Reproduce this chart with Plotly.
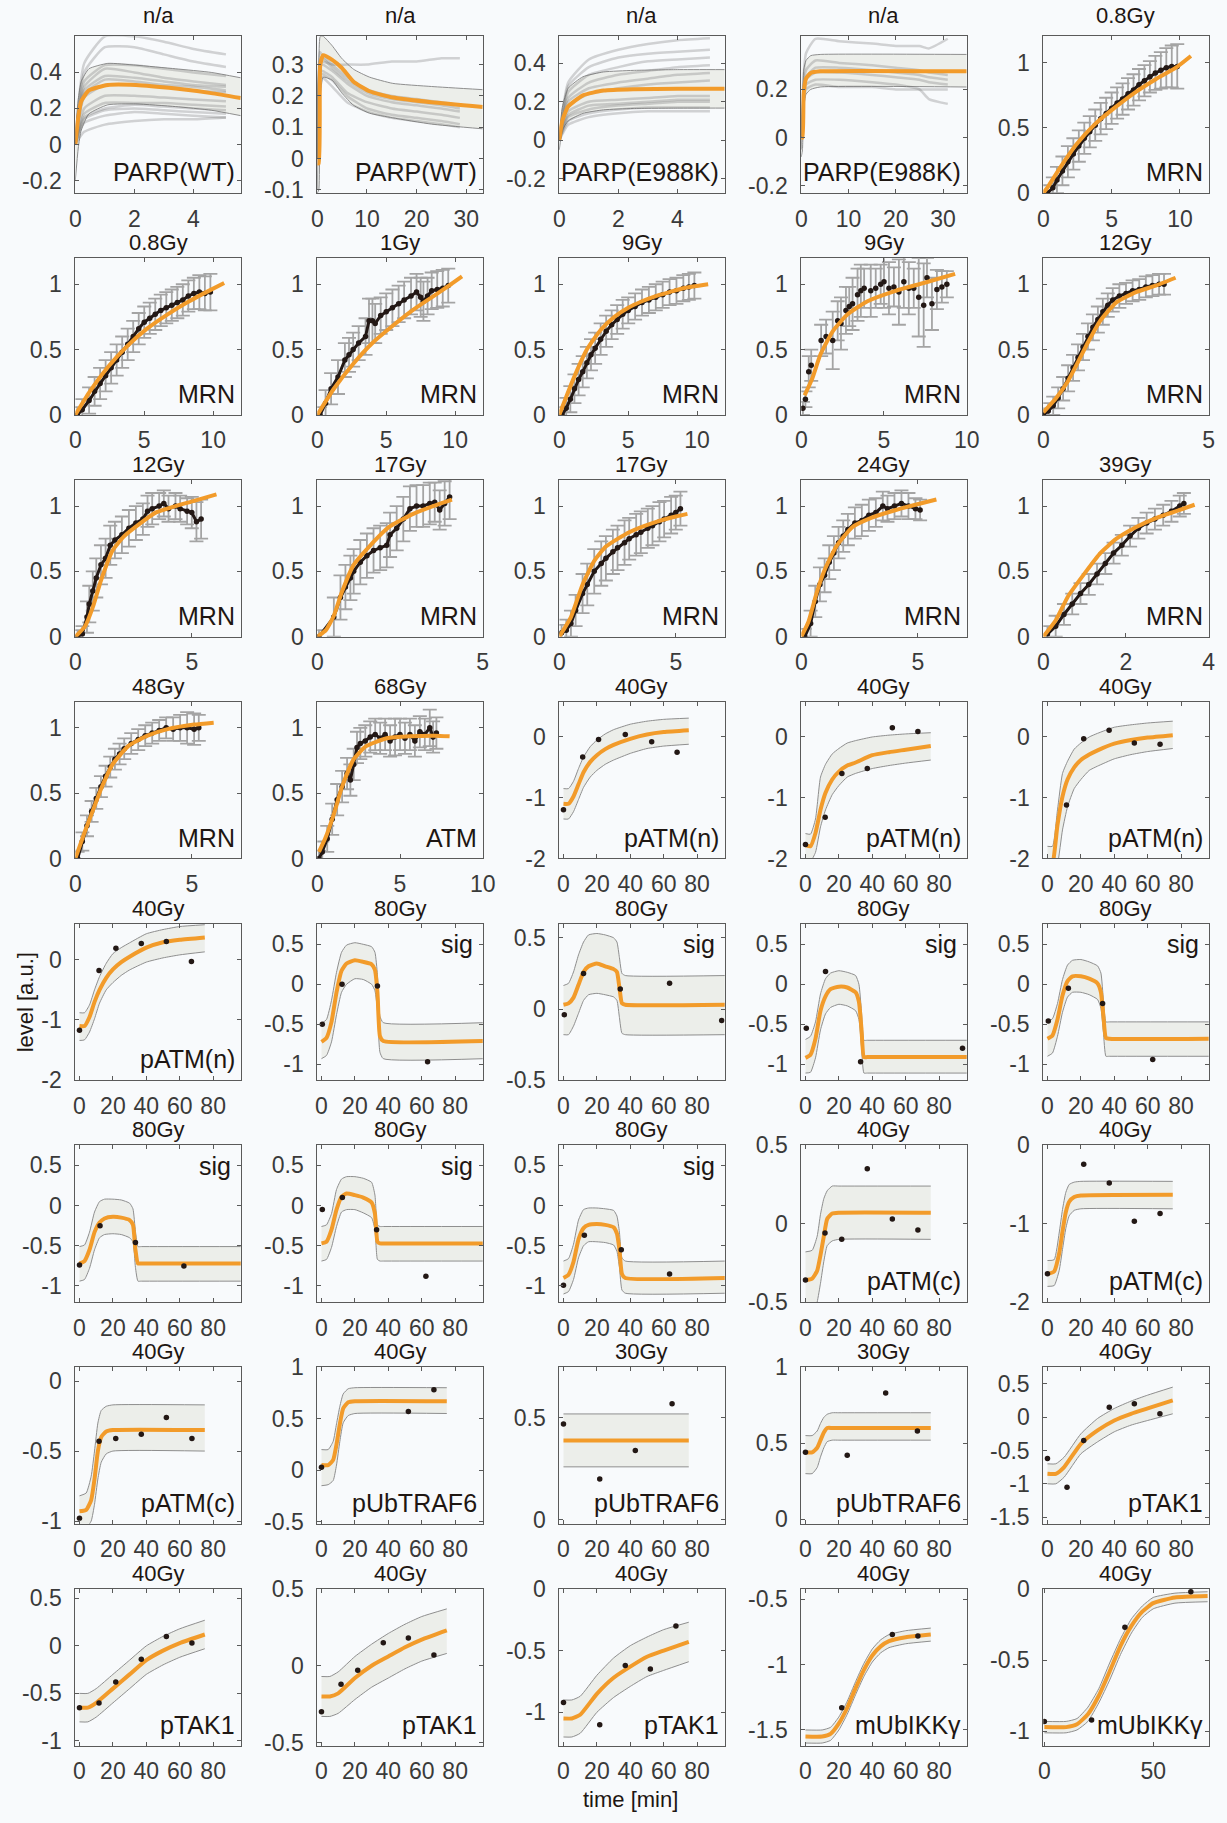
import plotly.graph_objects as go

# ============ panel meta (row-major, 8 rows x 5 cols) ============
TITLES = ["n/a", "n/a", "n/a", "n/a", "0.8Gy",
          "0.8Gy", "1Gy", "9Gy", "9Gy", "12Gy",
          "12Gy", "17Gy", "17Gy", "24Gy", "39Gy",
          "48Gy", "68Gy", "40Gy", "40Gy", "40Gy",
          "40Gy", "80Gy", "80Gy", "80Gy", "80Gy",
          "80Gy", "80Gy", "80Gy", "40Gy", "40Gy",
          "40Gy", "40Gy", "30Gy", "30Gy", "40Gy",
          "40Gy", "40Gy", "40Gy", "40Gy", "40Gy"]
LABELS = ["PARP(WT)", "PARP(WT)", "PARP(E988K)", "PARP(E988K)", "MRN",
          "MRN", "MRN", "MRN", "MRN", "MRN",
          "MRN", "MRN", "MRN", "MRN", "MRN",
          "MRN", "ATM", "pATM(n)", "pATM(n)", "pATM(n)",
          "pATM(n)", "sig", "sig", "sig", "sig",
          "sig", "sig", "sig", "pATM(c)", "pATM(c)",
          "pATM(c)", "pUbTRAF6", "pUbTRAF6", "pUbTRAF6", "pTAK1",
          "pTAK1", "pTAK1", "pTAK1", "mUbIKKγ", "mUbIKKγ"]

T80 = [-2.5, 96.5]
X_RANGES = [[0, 5.6], [0, 33.3], [0, 5.6], [0, 35], [0, 12.1],
            [0, 12], [0, 12], [0, 12], [0, 10], [0, 5],
            [0, 7.1], [0, 5], [0, 7.1], [0, 7.1], [0, 4],
            [0, 7.1], [0, 10], T80, T80, T80,
            T80, T80, T80, T80, T80,
            T80, T80, T80, T80, T80,
            T80, T80, T80, T80, T80,
            T80, T80, T80, T80, [-0.5, 75.5]]
K80 = [0, 20, 40, 60, 80]
X_TICKS = [[0, 2, 4], [0, 10, 20, 30], [0, 2, 4], [0, 10, 20, 30], [0, 5, 10],
           [0, 5, 10], [0, 5, 10], [0, 5, 10], [0, 5, 10], [0, 5],
           [0, 5], [0, 5], [0, 5], [0, 5], [0, 2, 4],
           [0, 5], [0, 5, 10], K80, K80, K80,
           K80, K80, K80, K80, K80,
           K80, K80, K80, K80, K80,
           K80, K80, K80, K80, K80,
           K80, K80, K80, K80, [0, 50]]
MRN_R = [0, 1.2]
Y_RANGES = [[-0.27, 0.6], [-0.11, 0.39], [-0.275, 0.54], [-0.23, 0.42], MRN_R,
            MRN_R, MRN_R, MRN_R, MRN_R, MRN_R,
            MRN_R, MRN_R, MRN_R, MRN_R, MRN_R,
            MRN_R, MRN_R, [-2, 0.58], [-2, 0.58], [-2, 0.58],
            [-2, 0.6], [-1.2, 0.76], [-0.5, 0.6], [-1.2, 0.76], [-1.2, 0.76],
            [-1.2, 0.75], [-1.2, 0.75], [-1.2, 0.75], [-0.5, 0.5], [-2, 0],
            [-1.02, 0.1], [-0.52, 1.0], [-0.02, 0.75], [-0.03, 1.0], [-1.6, 0.75],
            [-1.05, 0.6], [-0.52, 0.5], [-1.27, 0], [-1.62, -0.42], [-1.1, 0]]
MRN_T = [0, 0.5, 1]
S4 = [-1, -0.5, 0, 0.5]
Y_TICKS = [[-0.2, 0, 0.2, 0.4], [-0.1, 0, 0.1, 0.2, 0.3], [-0.2, 0, 0.2, 0.4], [-0.2, 0, 0.2], MRN_T,
           MRN_T, MRN_T, MRN_T, MRN_T, MRN_T,
           MRN_T, MRN_T, MRN_T, MRN_T, MRN_T,
           MRN_T, MRN_T, [-2, -1, 0], [-2, -1, 0], [-2, -1, 0],
           [-2, -1, 0], S4, [-0.5, 0, 0.5], S4, S4,
           S4, S4, S4, [-0.5, 0, 0.5], [-2, -1, 0],
           [-1, -0.5, 0], [-0.5, 0, 0.5, 1], [0, 0.5], [0, 0.5, 1], [-1.5, -1, -0.5, 0, 0.5],
           S4, [-0.5, 0, 0.5], [-1, -0.5, 0], [-1.5, -1, -0.5], [-1, -0.5, 0]]

# ============ PARP panels (gray single-cell traces + fit + band) ============
P01_FIT_X = [0, 0.1, 0.2, 0.46, 1.1, 2.05, 3.4, 4.6, 5.6]
P01_FIT_Y = [0, 0.15, 0.24, 0.3, 0.33, 0.33, 0.31, 0.285, 0.258]
P01_UP = [0.05, 0.25, 0.35, 0.42, 0.45, 0.44, 0.42, 0.4, 0.37]
P01_LO = [-0.2, -0.02, 0.08, 0.17, 0.22, 0.225, 0.21, 0.19, 0.16]
P01_TX = [0, 0.3, 1, 2, 3, 4, 5.1]
P01_TRAJ = [[0, 0.45, 0.6, 0.6, 0.57, 0.53, 0.5],
            [0, 0.4, 0.54, 0.54, 0.5, 0.46, 0.43],
            [0, 0.35, 0.44, 0.44, 0.42, 0.4, 0.38],
            [0, 0.32, 0.42, 0.4, 0.37, 0.35, 0.33],
            [0, 0.3, 0.38, 0.37, 0.35, 0.33, 0.32],
            [0, 0.28, 0.36, 0.35, 0.33, 0.32, 0.3],
            [0, 0.26, 0.33, 0.33, 0.32, 0.3, 0.29],
            [0, 0.2, 0.27, 0.27, 0.26, 0.25, 0.24],
            [0, 0.17, 0.23, 0.23, 0.23, 0.22, 0.21],
            [0, 0.15, 0.2, 0.22, 0.21, 0.2, 0.19],
            [0, 0.14, 0.19, 0.2, 0.19, 0.18, 0.17],
            [0, 0.12, 0.16, 0.18, 0.17, 0.16, 0.15],
            [0, 0.07, 0.11, 0.13, 0.14, 0.14, 0.15]]

P02_FIT_X = [0, 0.3, 0.6, 1.2, 3, 4.9, 7.3, 10.5, 15.2, 23, 33.3]
P02_FIT_Y = [-0.015, -0.015, 0.3, 0.33, 0.315, 0.29, 0.245, 0.215, 0.195, 0.18, 0.165]
P02_UP = [-0.1, 0.2, 0.39, 0.39, 0.36, 0.32, 0.285, 0.26, 0.24, 0.23, 0.22]
P02_LO = [-0.11, -0.1, 0.2, 0.26, 0.25, 0.21, 0.17, 0.145, 0.13, 0.11, 0.095]
P02_TX = [0, 0.5, 1, 3, 6, 10, 15, 20, 25, 28.7]
P02_TRAJ = [[0, 0.3, 0.31, 0.3, 0.3, 0.3, 0.31, 0.31, 0.32, 0.32],
            [0, 0.3, 0.3, 0.28, 0.24, 0.2, 0.18, 0.17, 0.16, 0.15],
            [0, 0.28, 0.28, 0.26, 0.21, 0.18, 0.16, 0.15, 0.14, 0.13],
            [0, 0.27, 0.27, 0.25, 0.2, 0.16, 0.14, 0.13, 0.12, 0.11],
            [0, 0.26, 0.26, 0.23, 0.18, 0.15, 0.13, 0.12, 0.11, 0.1],
            [0, 0.31, 0.32, 0.29, 0.25, 0.21, 0.19, 0.18, 0.17, 0.16],
            [0, 0.34, 0.33, 0.3, 0.26, 0.22, 0.2, 0.19, 0.18, 0.17]]

P03_FIT_X = [0, 0.1, 0.3, 0.8, 1.5, 2.5, 4, 5.6]
P03_FIT_Y = [0, 0.1, 0.175, 0.233, 0.258, 0.265, 0.267, 0.267]
P03_UP = [0, 0.17, 0.27, 0.33, 0.355, 0.363, 0.367, 0.367]
P03_LO = [-0.05, 0.05, 0.1, 0.14, 0.158, 0.165, 0.167, 0.167]
P03_TX = [0, 0.3, 1, 2, 3, 4, 5.1]
P03_TRAJ = [[0, 0.3, 0.42, 0.47, 0.5, 0.52, 0.53],
            [0, 0.28, 0.38, 0.43, 0.45, 0.46, 0.47],
            [0, 0.25, 0.34, 0.38, 0.41, 0.42, 0.43],
            [0, 0.22, 0.3, 0.34, 0.36, 0.38, 0.39],
            [0, 0.2, 0.27, 0.3, 0.32, 0.34, 0.35],
            [0, 0.18, 0.24, 0.27, 0.29, 0.3, 0.31],
            [0, 0.15, 0.2, 0.21, 0.22, 0.23, 0.23],
            [0, 0.13, 0.18, 0.19, 0.2, 0.21, 0.21],
            [0, 0.12, 0.16, 0.18, 0.19, 0.2, 0.2],
            [0, 0.1, 0.14, 0.16, 0.17, 0.17, 0.17],
            [0, 0.08, 0.12, 0.14, 0.15, 0.15, 0.15]]

P04_FIT_X = [0, 0.25, 0.5, 1.0, 2.0, 4.0, 35]
P04_FIT_Y = [0, 0.0, 0.18, 0.245, 0.268, 0.275, 0.275]
P04_UP = [-0.05, 0.1, 0.28, 0.32, 0.34, 0.345, 0.345]
P04_LO = [-0.08, -0.05, 0.12, 0.18, 0.2, 0.21, 0.21]
P04_TX = [0, 1, 3, 8, 15, 20, 25, 27, 31]
P04_TRAJ = [[0, 0.35, 0.41, 0.4, 0.39, 0.38, 0.38, 0.37, 0.41],
            [0, 0.28, 0.32, 0.31, 0.3, 0.29, 0.28, 0.27, 0.26],
            [0, 0.24, 0.27, 0.27, 0.26, 0.25, 0.24, 0.23, 0.22],
            [0, 0.2, 0.22, 0.21, 0.21, 0.2, 0.2, 0.2, 0.2],
            [0, 0.22, 0.24, 0.24, 0.23, 0.22, 0.2, 0.16, 0.14],
            [0, 0.25, 0.29, 0.29, 0.28, 0.27, 0.26, 0.25, 0.24]]

# ============ MRN / ATM panels (mean +/- sd and fit) ============
P05_FIT_X = [0, 0.35, 1.2, 2.4, 3.8, 5.3, 6.7, 8.2, 9.7, 10.8]
P05_FIT_Y = [0, 0.05, 0.19, 0.37, 0.53, 0.66, 0.77, 0.87, 0.96, 1.05]
P05_X = [0.3, 0.7, 1.0, 1.4, 1.8, 2.2, 2.6, 3.0, 3.4, 3.8, 4.2, 4.6, 5.0, 5.4, 5.8, 6.2, 6.6, 7.0, 7.4, 7.8, 8.2, 8.6, 9.0, 9.4, 9.8]
P05_Y = [0.0, 0.04, 0.1, 0.17, 0.24, 0.3, 0.36, 0.42, 0.47, 0.52, 0.57, 0.61, 0.65, 0.69, 0.72, 0.76, 0.79, 0.83, 0.86, 0.89, 0.92, 0.94, 0.96, 0.97, 0.97]
P05_ERR = [0.06, 0.08, 0.1, 0.11, 0.12, 0.12, 0.12, 0.12, 0.12, 0.12, 0.12, 0.12, 0.12, 0.12, 0.12, 0.12, 0.12, 0.12, 0.12, 0.12, 0.13, 0.14, 0.15, 0.16, 0.17]

P06_FIT_X = [0, 1.0, 2.4, 3.8, 5.2, 6.7, 8.1, 9.5, 10.8]
P06_FIT_Y = [0, 0.17, 0.37, 0.53, 0.66, 0.77, 0.86, 0.94, 1.01]
P06_X = [0.15, 0.5, 1.0, 1.4, 1.8, 2.2, 2.6, 3.0, 3.4, 3.8, 4.2, 4.6, 5.0, 5.4, 5.8, 6.2, 6.6, 7.0, 7.4, 7.8, 8.2, 8.6, 9.0, 9.4, 9.8]
P06_Y = [0, 0.04, 0.11, 0.18, 0.24, 0.3, 0.36, 0.42, 0.48, 0.54, 0.6, 0.66, 0.71, 0.74, 0.77, 0.8, 0.82, 0.84, 0.86, 0.88, 0.91, 0.93, 0.94, 0.93, 0.94]
P06_ERR = [0.06, 0.08, 0.1, 0.11, 0.12, 0.12, 0.12, 0.12, 0.12, 0.12, 0.12, 0.12, 0.12, 0.12, 0.12, 0.12, 0.12, 0.12, 0.12, 0.12, 0.12, 0.12, 0.13, 0.13, 0.14]

P07_FIT_X = [0, 1.2, 2.6, 4.0, 5.45, 6.9, 8.3, 9.7, 10.5]
P07_FIT_Y = [0, 0.2, 0.39, 0.55, 0.68, 0.8, 0.9, 1.0, 1.06]
P07_X = [0.2, 0.6, 1.0, 1.5, 2.0, 2.3, 2.6, 3.0, 3.5, 3.75, 4.0, 4.2, 4.6, 5.0, 5.45, 5.9, 6.3, 6.8, 7.2, 7.5, 7.7, 8.0, 8.3, 8.7, 9.1, 9.5]
P07_Y = [0, 0.09, 0.2, 0.29, 0.42, 0.46, 0.5, 0.55, 0.6, 0.72, 0.72, 0.7, 0.76, 0.79, 0.82, 0.85, 0.88, 0.91, 0.94, 0.9, 0.87, 0.91, 0.95, 0.96, 0.97, 0.99]
P07_ERR = [0.06, 0.1, 0.12, 0.13, 0.13, 0.13, 0.13, 0.13, 0.14, 0.17, 0.17, 0.15, 0.14, 0.14, 0.14, 0.14, 0.14, 0.14, 0.14, 0.15, 0.15, 0.14, 0.14, 0.14, 0.14, 0.13]

P08_FIT_X = [0, 1, 2, 3, 4, 5, 6, 7, 8, 9, 10.8]
P08_FIT_Y = [0, 0.27, 0.5, 0.65, 0.75, 0.82, 0.87, 0.91, 0.94, 0.97, 1.0]
P08_X = [0.2, 0.5, 0.8, 1.1, 1.4, 1.7, 2.0, 2.3, 2.6, 3.0, 3.4, 3.8, 4.2, 4.6, 5.0, 5.5, 6.0, 6.5, 7.0, 7.5, 8.0, 8.5, 9.0, 9.4, 9.8]
P08_Y = [0.0, 0.05, 0.12, 0.2, 0.27, 0.33, 0.4, 0.46, 0.51, 0.58, 0.64, 0.69, 0.73, 0.77, 0.8, 0.83, 0.86, 0.88, 0.9, 0.92, 0.94, 0.95, 0.97, 0.98, 0.99]
P08_ERR = [0.06, 0.08, 0.1, 0.11, 0.12, 0.12, 0.12, 0.12, 0.12, 0.12, 0.12, 0.11, 0.11, 0.11, 0.1, 0.1, 0.1, 0.1, 0.1, 0.1, 0.1, 0.1, 0.1, 0.1, 0.1]

P09_FIT_X = [0.2, 0.67, 1.15, 1.9, 2.8, 4.0, 5.7, 7.4, 9.3]
P09_FIT_Y = [0.15, 0.28, 0.46, 0.64, 0.77, 0.87, 0.95, 1.01, 1.08]
P09_X = [0.1, 0.25, 0.45, 0.6, 1.2, 1.5, 1.9, 2.2, 2.4, 2.7, 2.9, 3.1, 3.4, 3.6, 3.8, 4.2, 4.5, 4.8, 5.0, 5.3, 5.6, 5.9, 6.2, 6.5, 6.8, 7.1, 7.4, 7.6, 7.9, 8.2, 8.5, 8.8]
P09_Y = [0.05, 0.12, 0.33, 0.38, 0.57, 0.6, 0.57, 0.72, 0.7, 0.8, 0.83, 0.85, 0.92, 0.95, 0.97, 0.95, 0.97, 1.0, 1.02, 0.97, 0.98, 0.94, 1.02, 0.97, 0.97, 0.9, 0.84, 1.05, 0.85, 0.96, 0.98, 1.0]
P09_ERR = [0.05, 0.06, 0.12, 0.12, 0.12, 0.13, 0.22, 0.15, 0.2, 0.18, 0.15, 0.2, 0.2, 0.2, 0.15, 0.2, 0.15, 0.15, 0.2, 0.2, 0.15, 0.25, 0.2, 0.2, 0.15, 0.3, 0.32, 0.15, 0.2, 0.15, 0.12, 0.1]

P10_FIT_X = [0, 0.39, 0.75, 1.0, 1.36, 1.72, 2.2, 2.8, 3.4, 4.0]
P10_FIT_Y = [0.02, 0.13, 0.26, 0.38, 0.56, 0.72, 0.86, 0.94, 0.99, 1.05]
P10_X = [0, 0.15, 0.3, 0.45, 0.6, 0.75, 0.9, 1.05, 1.2, 1.35, 1.5, 1.65, 1.8, 1.95, 2.1, 2.3, 2.5, 2.7, 2.9, 3.1, 3.3, 3.5, 3.65]
P10_Y = [0, 0.03, 0.07, 0.13, 0.2, 0.28, 0.36, 0.44, 0.52, 0.6, 0.67, 0.73, 0.79, 0.84, 0.88, 0.91, 0.93, 0.95, 0.96, 0.98, 0.99, 1.0, 1.0]
P10_ERR = [0.05, 0.06, 0.07, 0.08, 0.09, 0.1, 0.1, 0.1, 0.1, 0.1, 0.1, 0.1, 0.1, 0.09, 0.09, 0.09, 0.08, 0.08, 0.08, 0.08, 0.08, 0.08, 0.08]

P11_FIT_X = [0, 0.42, 0.76, 1.1, 1.6, 2.1, 2.8, 3.45, 4.3, 5.1, 6.06]
P11_FIT_Y = [0, 0.08, 0.23, 0.43, 0.66, 0.77, 0.87, 0.95, 1.0, 1.04, 1.09]
P11_X = [0.1, 0.3, 0.5, 0.6, 0.75, 0.9, 1.1, 1.3, 1.5, 1.7, 2.0, 2.3, 2.6, 2.9, 3.1, 3.3, 3.6, 3.8, 4.0, 4.3, 4.5, 4.8, 5.0, 5.2, 5.4]
P11_Y = [0, 0.02, 0.15, 0.25, 0.35, 0.45, 0.55, 0.6, 0.7, 0.74, 0.78, 0.83, 0.87, 0.9, 0.96, 0.98, 1.0, 1.02, 0.98, 1.0, 0.98, 0.96, 0.95, 0.88, 0.9]
P11_ERR = [0.05, 0.06, 0.12, 0.14, 0.15, 0.15, 0.15, 0.15, 0.15, 0.14, 0.14, 0.14, 0.13, 0.12, 0.12, 0.12, 0.1, 0.1, 0.1, 0.1, 0.1, 0.1, 0.12, 0.15, 0.15]

P12_FIT_X = [0, 0.26, 0.5, 0.74, 1.1, 1.57, 2.17, 2.9, 3.5, 4.07]
P12_FIT_Y = [0, 0.05, 0.16, 0.34, 0.55, 0.69, 0.84, 0.94, 1.0, 1.05]
P12_X = [0.05, 0.5, 0.7, 0.85, 1.0, 1.1, 1.3, 1.5, 1.7, 1.9, 2.1, 2.2, 2.4, 2.6, 2.8, 3.0, 3.2, 3.4, 3.55, 3.7, 3.85, 4.0]
P12_Y = [0, 0.15, 0.3, 0.38, 0.45, 0.5, 0.57, 0.62, 0.66, 0.68, 0.7, 0.78, 0.83, 0.9, 0.98, 1.0, 1.0, 1.02, 1.03, 0.97, 1.02, 1.07]
P12_ERR = [0.05, 0.15, 0.17, 0.17, 0.17, 0.17, 0.17, 0.17, 0.17, 0.17, 0.17, 0.17, 0.17, 0.17, 0.17, 0.16, 0.16, 0.16, 0.15, 0.15, 0.17, 0.17]

P13_FIT_X = [0, 0.5, 1, 1.5, 2, 3, 4, 5, 5.5]
P13_FIT_Y = [0, 0.15, 0.4, 0.58, 0.69, 0.8, 0.87, 0.92, 0.94]
P13_X = [0.1, 0.3, 0.5, 0.7, 1.0, 1.2, 1.5, 1.8, 2.0, 2.3, 2.5, 2.8, 3.0, 3.3, 3.5, 3.8, 4.0, 4.3, 4.5, 4.8, 5.0, 5.2]
P13_Y = [0.03, 0.05, 0.1, 0.2, 0.33, 0.4, 0.5, 0.56, 0.6, 0.65, 0.68, 0.72, 0.75, 0.78, 0.8, 0.83, 0.85, 0.88, 0.9, 0.93, 0.95, 0.98]
P13_ERR = [0.06, 0.08, 0.1, 0.12, 0.15, 0.16, 0.17, 0.17, 0.17, 0.17, 0.17, 0.17, 0.16, 0.16, 0.16, 0.15, 0.15, 0.15, 0.14, 0.14, 0.13, 0.13]

P14_FIT_X = [0, 0.3, 0.65, 1.0, 1.5, 2.2, 3.0, 4.06, 4.9, 5.8]
P14_FIT_Y = [0, 0.11, 0.33, 0.51, 0.69, 0.84, 0.91, 0.97, 1.01, 1.05]
P14_X = [0.15, 0.4, 0.6, 0.8, 1.0, 1.2, 1.4, 1.6, 1.8, 2.0, 2.3, 2.6, 2.9, 3.2, 3.5, 3.7, 4.0, 4.3, 4.6, 4.9, 5.1]
P14_Y = [0, 0.1, 0.27, 0.4, 0.47, 0.57, 0.64, 0.72, 0.77, 0.82, 0.87, 0.89, 0.93, 0.95, 1.0, 0.98, 1.0, 1.02, 1.0, 0.98, 0.97]
P14_ERR = [0.06, 0.1, 0.12, 0.13, 0.13, 0.13, 0.13, 0.12, 0.12, 0.12, 0.12, 0.12, 0.12, 0.11, 0.11, 0.1, 0.1, 0.1, 0.1, 0.08, 0.08]

P15_FIT_X = [0, 0.31, 0.6, 1.0, 1.38, 1.77, 2.25, 2.74, 3.2, 3.66]
P15_FIT_Y = [0, 0.13, 0.31, 0.485, 0.64, 0.75, 0.84, 0.91, 0.96, 1.01]
P15_X = [0.1, 0.3, 0.5, 0.7, 0.9, 1.1, 1.3, 1.5, 1.7, 1.9, 2.1, 2.3, 2.5, 2.7, 2.9, 3.1, 3.3, 3.4]
P15_Y = [0.02, 0.08, 0.17, 0.25, 0.33, 0.4, 0.48, 0.56, 0.64, 0.7, 0.77, 0.83, 0.87, 0.9, 0.93, 0.96, 1.0, 1.02]
P15_ERR = [0.06, 0.08, 0.08, 0.08, 0.08, 0.08, 0.08, 0.08, 0.08, 0.08, 0.08, 0.08, 0.08, 0.08, 0.08, 0.08, 0.08, 0.08]

P16_FIT_X = [0, 0.42, 0.76, 1.1, 1.6, 2.27, 3.1, 3.96, 5.1, 5.94]
P16_FIT_Y = [0, 0.21, 0.37, 0.53, 0.72, 0.86, 0.94, 0.99, 1.025, 1.04]
P16_X = [0.1, 0.3, 0.5, 0.7, 0.9, 1.1, 1.3, 1.5, 1.7, 1.9, 2.1, 2.4, 2.7, 3.0, 3.3, 3.6, 3.9, 4.2, 4.5, 4.8, 5.1, 5.3]
P16_Y = [0, 0.13, 0.25, 0.36, 0.46, 0.55, 0.63, 0.7, 0.76, 0.8, 0.84, 0.88, 0.91, 0.94, 0.96, 0.98, 1.0, 0.99, 1.0, 1.0, 0.99, 1.0]
P16_ERR = [0.05, 0.07, 0.08, 0.08, 0.08, 0.08, 0.08, 0.08, 0.08, 0.08, 0.08, 0.08, 0.08, 0.08, 0.08, 0.08, 0.08, 0.09, 0.1, 0.12, 0.12, 0.1]

P17_FIT_X = [0.1, 0.5, 1.0, 1.5, 2.2, 2.95, 4.2, 5.6, 7.1, 8.0]
P17_FIT_Y = [0.05, 0.16, 0.34, 0.55, 0.76, 0.86, 0.92, 0.935, 0.94, 0.935]
P17_X = [0.1, 0.3, 0.6, 0.9, 1.2, 1.5, 1.8, 2.0, 2.2, 2.4, 2.6, 2.9, 3.2, 3.5, 3.8, 4.1, 4.4, 4.7, 5.0, 5.3, 5.6, 5.9, 6.2, 6.5, 6.8, 7.0, 7.2]
P17_Y = [0, 0.05, 0.15, 0.3, 0.45, 0.55, 0.65, 0.6, 0.72, 0.85, 0.88, 0.9, 0.93, 0.95, 0.92, 0.95, 0.9, 0.93, 0.95, 0.92, 0.95, 0.9, 0.97, 0.95, 1.0, 0.93, 0.96]
P17_ERR = [0.06, 0.08, 0.1, 0.12, 0.12, 0.12, 0.12, 0.12, 0.12, 0.12, 0.12, 0.12, 0.12, 0.12, 0.12, 0.12, 0.12, 0.14, 0.12, 0.12, 0.12, 0.12, 0.12, 0.12, 0.14, 0.12, 0.12]

# ============ model panels (band + fit + measured points) ============
PATMN_T = [0, 3, 6, 9, 12, 16, 20, 25, 30, 40, 50, 60, 75]
SIG_T = [0, 3, 6, 9, 12, 15, 20, 25, 30, 32, 33.5, 35, 37, 97]
STEP_T = [0, 4, 7, 9, 11, 13, 16, 20, 75]
TAK_T = [0, 5, 10, 20, 30, 40, 50, 60, 75]
IKK_T = [0, 10, 15, 20, 25, 30, 35, 40, 45, 50, 60, 75]
FLAT_T = [0, 75]
PATM_DX = [0, 11.7, 21.7, 37, 52, 67.3]

P18_FIT = [-1.1, -1.1, -0.98, -0.78, -0.58, -0.41, -0.3, -0.2, -0.13, -0.03, 0.04, 0.08, 0.11]
P18_UP = [-0.85, -0.85, -0.73, -0.52, -0.33, -0.16, -0.05, 0.05, 0.12, 0.21, 0.26, 0.29, 0.31]
P18_LO = [-1.35, -1.35, -1.23, -1.03, -0.83, -0.66, -0.55, -0.45, -0.38, -0.27, -0.19, -0.15, -0.12]
P18_DX = [0, 11.5, 21, 37, 52.8, 68]
P18_DY = [-1.2, -0.33, -0.04, 0.04, -0.08, -0.25]

P19_FIT = [-1.78, -1.8, -1.58, -1.2, -0.92, -0.7, -0.57, -0.47, -0.42, -0.3, -0.25, -0.21, -0.15]
P19_UP = [-1.59, -1.6, -1.35, -0.66, -0.45, -0.28, -0.19, -0.1, -0.06, 0.0, 0.03, 0.05, 0.07]
P19_LO = [-2.05, -2.05, -1.9, -1.48, -1.2, -0.95, -0.8, -0.66, -0.6, -0.52, -0.47, -0.43, -0.38]
P19_DX = [0, 11.8, 21.8, 37, 52, 67.3]
P19_DY = [-1.77, -1.32, -0.6, -0.52, 0.15, 0.09]

P20_FIT = [-2.2, -2.1, -1.45, -0.98, -0.7, -0.5, -0.38, -0.29, -0.22, -0.11, -0.05, -0.01, 0.03]
P20_UP = [-1.8, -1.8, -1.2, -0.6, -0.4, -0.2, -0.1, 0.0, 0.06, 0.16, 0.2, 0.23, 0.26]
P20_LO = [-2.3, -2.3, -2.1, -1.53, -1.15, -0.85, -0.7, -0.55, -0.48, -0.36, -0.29, -0.24, -0.19]
P20_DX = [11.4, 21.7, 36.9, 52, 67.4]
P20_DY = [-1.12, -0.03, 0.11, -0.1, -0.12]

P21_FIT = [-1.1, -1.1, -0.95, -0.7, -0.5, -0.3, -0.16, -0.04, 0.05, 0.2, 0.29, 0.33, 0.37]
P21_UP = [-0.88, -0.88, -0.75, -0.5, -0.28, -0.06, 0.1, 0.2, 0.28, 0.43, 0.5, 0.55, 0.58]
P21_LO = [-1.34, -1.33, -1.2, -0.98, -0.72, -0.5, -0.38, -0.26, -0.17, -0.04, 0.03, 0.08, 0.13]
P21_DX = [0, 11.7, 21.8, 37, 52, 67]
P21_DY = [-1.17, -0.18, 0.19, 0.27, 0.3, -0.03]

P22_FIT = [-0.72, -0.67, -0.47, -0.1, 0.17, 0.26, 0.3, 0.28, 0.25, 0.18, -0.1, -0.65, -0.71, -0.71]
P22_UP = [-0.49, -0.44, -0.2, 0.15, 0.4, 0.49, 0.52, 0.5, 0.47, 0.4, 0.12, -0.4, -0.48, -0.48]
P22_LO = [-0.93, -0.89, -0.72, -0.38, -0.1, 0.0, 0.07, 0.06, 0.0, -0.08, -0.33, -0.85, -0.93, -0.93]
P22_DX = [0.5, 12.3, 33.5, 63.5]
P22_DY = [-0.5, 0.0, -0.02, -0.97]

P23_FIT = [0.03, 0.04, 0.08, 0.17, 0.26, 0.3, 0.32, 0.3, 0.28, 0.26, 0.15, 0.04, 0.03, 0.03]
P23_UP = [0.165, 0.18, 0.26, 0.38, 0.47, 0.52, 0.53, 0.52, 0.5, 0.47, 0.36, 0.25, 0.235, 0.235]
P23_LO = [-0.18, -0.18, -0.12, -0.03, 0.06, 0.1, 0.11, 0.1, 0.085, 0.06, -0.06, -0.17, -0.18, -0.18]
P23_DX = [0.5, 12, 34, 63.5, 94.7]
P23_DY = [-0.04, 0.25, 0.14, 0.18, -0.08]

P24_FIT = [-0.92, -0.88, -0.68, -0.33, -0.15, -0.06, -0.03, -0.04, -0.1, -0.22, -0.55, -0.91, -0.91, -0.91]
P24_UP = [-0.69, -0.65, -0.47, -0.12, 0.07, 0.14, 0.17, 0.15, 0.11, 0.0, -0.33, -0.7, -0.7, -0.7]
P24_LO = [-1.11, -1.1, -0.92, -0.57, -0.37, -0.29, -0.25, -0.27, -0.33, -0.44, -0.77, -1.11, -1.11, -1.11]
P24_DX = [0.5, 12, 33, 94]
P24_DY = [-0.55, 0.16, -0.97, -0.8]

P25_FIT = [-0.68, -0.64, -0.44, -0.14, 0.04, 0.1, 0.1, 0.07, 0.01, -0.1, -0.4, -0.67, -0.68, -0.68]
P25_UP = [-0.47, -0.43, -0.24, 0.06, 0.24, 0.3, 0.31, 0.28, 0.23, 0.14, -0.2, -0.47, -0.47, -0.47]
P25_LO = [-0.9, -0.86, -0.65, -0.35, -0.16, -0.1, -0.1, -0.13, -0.19, -0.3, -0.6, -0.9, -0.9, -0.9]
P25_DX = [0.5, 12.5, 33, 63]
P25_DY = [-0.46, -0.05, -0.24, -0.94]

P26_FIT = [-0.72, -0.69, -0.55, -0.33, -0.21, -0.16, -0.14, -0.15, -0.18, -0.24, -0.55, -0.72, -0.72, -0.72]
P26_UP = [-0.51, -0.49, -0.33, -0.08, 0.05, 0.08, 0.08, 0.07, 0.03, -0.04, -0.32, -0.51, -0.51, -0.51]
P26_LO = [-0.94, -0.92, -0.78, -0.55, -0.4, -0.36, -0.35, -0.36, -0.4, -0.45, -0.77, -0.94, -0.94, -0.94]
P26_DX = [0, 12.3, 33.5, 62.5]
P26_DY = [-0.74, -0.25, -0.46, -0.75]

P27_FIT = [-0.47, -0.45, -0.3, -0.05, 0.11, 0.15, 0.13, 0.1, 0.04, -0.1, -0.45, -0.47, -0.47, -0.47]
P27_UP = [-0.26, -0.24, -0.1, 0.2, 0.33, 0.36, 0.36, 0.34, 0.29, 0.13, -0.24, -0.26, -0.26, -0.26]
P27_LO = [-0.69, -0.67, -0.52, -0.26, -0.08, -0.05, -0.05, -0.09, -0.15, -0.3, -0.67, -0.69, -0.69, -0.69]
P27_DX = [0.5, 12.5, 33, 62.5]
P27_DY = [-0.05, 0.1, -0.3, -0.88]

P28_FIT = [-0.9, -0.86, -0.7, -0.42, -0.28, -0.24, -0.23, -0.24, -0.27, -0.35, -0.55, -0.85, -0.9, -0.9]
P28_UP = [-0.69, -0.66, -0.48, -0.18, -0.05, -0.03, -0.03, -0.04, -0.06, -0.13, -0.33, -0.65, -0.69, -0.69]
P28_LO = [-1.1, -1.07, -0.92, -0.65, -0.5, -0.45, -0.45, -0.46, -0.49, -0.57, -0.77, -1.05, -1.09, -1.09]
P28_DX = [0, 12.5, 34.6, 63.5]
P28_DY = [-0.99, -0.37, -0.55, -0.85]

P29_FIT = [-0.36, -0.35, -0.3, -0.2, -0.08, 0.03, 0.065, 0.07, 0.07]
P29_UP = [-0.18, -0.17, -0.08, 0.06, 0.16, 0.21, 0.24, 0.24, 0.24]
P29_LO = [-0.75, -0.6, -0.5, -0.38, -0.24, -0.14, -0.11, -0.1, -0.1]
P29_DY = [-0.36, -0.06, -0.1, 0.35, 0.03, -0.04]

P30_FIT = [-1.64, -1.61, -1.38, -1.1, -0.85, -0.72, -0.66, -0.64, -0.63]
P30_UP = [-1.47, -1.46, -1.12, -0.82, -0.6, -0.5, -0.47, -0.46, -0.46]
P30_LO = [-1.8, -1.79, -1.6, -1.33, -1.06, -0.9, -0.83, -0.81, -0.81]
P30_DX = [0, 21.7, 37, 52, 67.4]
P30_DY = [-1.64, -0.24, -0.48, -0.97, -0.87]

P31_FIT = [-0.93, -0.92, -0.85, -0.7, -0.5, -0.4, -0.36, -0.35, -0.35]
P31_UP = [-0.82, -0.8, -0.68, -0.5, -0.3, -0.21, -0.18, -0.17, -0.17]
P31_LO = [-1.05, -1.05, -1.0, -0.88, -0.7, -0.58, -0.52, -0.5, -0.5]
P31_DY = [-0.98, -0.43, -0.41, -0.38, -0.26, -0.41]

P32_FIT = [0.05, 0.05, 0.1, 0.25, 0.45, 0.6, 0.66, 0.67, 0.67]
P32_UP = [0.2, 0.2, 0.28, 0.45, 0.62, 0.74, 0.79, 0.8, 0.8]
P32_LO = [-0.15, -0.14, -0.1, 0.05, 0.28, 0.46, 0.53, 0.55, 0.55]
P32_DX = [0, 52, 67.3]
P32_DY = [0.03, 0.57, 0.78]

P33_FIT = [0.39, 0.39]
P33_UP = [0.52, 0.52]
P33_LO = [0.26, 0.26]
P33_DX = [0, 21.7, 43, 65]
P33_DY = [0.47, 0.2, 0.34, 0.57]

P34_FIT = [0.44, 0.44, 0.47, 0.52, 0.57, 0.6, 0.6, 0.6, 0.6]
P34_UP = [0.55, 0.55, 0.58, 0.63, 0.67, 0.69, 0.7, 0.7, 0.7]
P34_LO = [0.3, 0.3, 0.34, 0.41, 0.47, 0.51, 0.52, 0.52, 0.52]
P34_DX = [0, 25, 48, 67]
P34_DY = [0.44, 0.42, 0.83, 0.58]

P35_FIT = [-0.85, -0.85, -0.75, -0.4, -0.2, -0.05, 0.05, 0.13, 0.25]
P35_UP = [-0.7, -0.7, -0.6, -0.25, -0.02, 0.13, 0.24, 0.33, 0.45]
P35_LO = [-1.0, -1.0, -0.9, -0.55, -0.37, -0.22, -0.12, -0.05, 0.05]
P35_DY = [-0.62, -1.05, -0.35, 0.15, 0.2, 0.05]

P36_FIT = [-0.65, -0.65, -0.6, -0.45, -0.3, -0.15, -0.05, 0.03, 0.12]
P36_UP = [-0.5, -0.5, -0.45, -0.3, -0.15, 0.0, 0.1, 0.18, 0.27]
P36_LO = [-0.8, -0.8, -0.75, -0.6, -0.45, -0.3, -0.2, -0.12, -0.03]
P36_DY = [-0.65, -0.6, -0.38, -0.14, 0.1, 0.03]

P37_FIT = [-0.2, -0.2, -0.18, -0.08, 0.0, 0.06, 0.12, 0.17, 0.23]
P37_UP = [-0.07, -0.07, -0.04, 0.06, 0.14, 0.21, 0.27, 0.32, 0.37]
P37_LO = [-0.33, -0.33, -0.31, -0.22, -0.14, -0.08, -0.02, 0.03, 0.08]
P37_DY = [-0.3, -0.12, -0.03, 0.15, 0.18, 0.07]

P38_FIT = [-1.05, -1.05, -1.02, -0.85, -0.72, -0.63, -0.55, -0.5, -0.43]
P38_UP = [-0.9, -0.9, -0.87, -0.7, -0.56, -0.46, -0.39, -0.33, -0.27]
P38_LO = [-1.2, -1.2, -1.17, -1.0, -0.88, -0.79, -0.71, -0.66, -0.59]
P38_DX = [0, 21.7, 37, 52, 67.3]
P38_DY = [-0.92, -1.1, -0.62, -0.65, -0.3]

P39_FIT = [-1.55, -1.55, -1.53, -1.45, -1.33, -1.18, -1.04, -0.93, -0.86, -0.82, -0.79, -0.77]
P39_UP = [-1.5, -1.5, -1.48, -1.4, -1.28, -1.13, -0.99, -0.88, -0.81, -0.77, -0.74, -0.72]
P39_LO = [-1.6, -1.6, -1.58, -1.5, -1.38, -1.23, -1.09, -0.98, -0.91, -0.87, -0.84, -0.82]
P39_DX = [21.7, 52, 67.3]
P39_DY = [-1.33, -0.77, -0.78]

P40_FIT = [-0.97, -0.97, -0.95, -0.88, -0.75, -0.58, -0.4, -0.26, -0.16, -0.1, -0.06, -0.05]
P40_UP = [-0.93, -0.93, -0.91, -0.83, -0.7, -0.52, -0.35, -0.21, -0.12, -0.06, -0.03, -0.02]
P40_LO = [-1.01, -1.01, -0.99, -0.93, -0.8, -0.64, -0.46, -0.31, -0.2, -0.14, -0.1, -0.09]
P40_DX = [0, 21.7, 37, 67.3]
P40_DY = [-0.93, -0.92, -0.27, -0.02]


def parp(fx, fy, up, lo, tx, traj):
    return dict(fit=(fx, fy), band=(fx, up, lo), traj=(tx, traj))


def mrn(fx, fy, x, y, e, dense=True):
    return dict(fit=(fx, fy), data=(x, y, e), dense=dense)


def model(t, fy, up, lo, dx, dy):
    return dict(fit=(t, fy), band=(t, up, lo), dots=(dx, dy))


PANELS = [
    parp(P01_FIT_X, P01_FIT_Y, P01_UP, P01_LO, P01_TX, P01_TRAJ),
    parp(P02_FIT_X, P02_FIT_Y, P02_UP, P02_LO, P02_TX, P02_TRAJ),
    parp(P03_FIT_X, P03_FIT_Y, P03_UP, P03_LO, P03_TX, P03_TRAJ),
    parp(P04_FIT_X, P04_FIT_Y, P04_UP, P04_LO, P04_TX, P04_TRAJ),
    mrn(P05_FIT_X, P05_FIT_Y, P05_X, P05_Y, P05_ERR),
    mrn(P06_FIT_X, P06_FIT_Y, P06_X, P06_Y, P06_ERR),
    mrn(P07_FIT_X, P07_FIT_Y, P07_X, P07_Y, P07_ERR),
    mrn(P08_FIT_X, P08_FIT_Y, P08_X, P08_Y, P08_ERR),
    mrn(P09_FIT_X, P09_FIT_Y, P09_X, P09_Y, P09_ERR, dense=False),
    mrn(P10_FIT_X, P10_FIT_Y, P10_X, P10_Y, P10_ERR),
    mrn(P11_FIT_X, P11_FIT_Y, P11_X, P11_Y, P11_ERR),
    mrn(P12_FIT_X, P12_FIT_Y, P12_X, P12_Y, P12_ERR),
    mrn(P13_FIT_X, P13_FIT_Y, P13_X, P13_Y, P13_ERR),
    mrn(P14_FIT_X, P14_FIT_Y, P14_X, P14_Y, P14_ERR),
    mrn(P15_FIT_X, P15_FIT_Y, P15_X, P15_Y, P15_ERR),
    mrn(P16_FIT_X, P16_FIT_Y, P16_X, P16_Y, P16_ERR),
    mrn(P17_FIT_X, P17_FIT_Y, P17_X, P17_Y, P17_ERR),
    model(PATMN_T, P18_FIT, P18_UP, P18_LO, P18_DX, P18_DY),
    model(PATMN_T, P19_FIT, P19_UP, P19_LO, P19_DX, P19_DY),
    model(PATMN_T, P20_FIT, P20_UP, P20_LO, P20_DX, P20_DY),
    model(PATMN_T, P21_FIT, P21_UP, P21_LO, P21_DX, P21_DY),
    model(SIG_T, P22_FIT, P22_UP, P22_LO, P22_DX, P22_DY),
    model(SIG_T, P23_FIT, P23_UP, P23_LO, P23_DX, P23_DY),
    model(SIG_T, P24_FIT, P24_UP, P24_LO, P24_DX, P24_DY),
    model(SIG_T, P25_FIT, P25_UP, P25_LO, P25_DX, P25_DY),
    model(SIG_T, P26_FIT, P26_UP, P26_LO, P26_DX, P26_DY),
    model(SIG_T, P27_FIT, P27_UP, P27_LO, P27_DX, P27_DY),
    model(SIG_T, P28_FIT, P28_UP, P28_LO, P28_DX, P28_DY),
    model(STEP_T, P29_FIT, P29_UP, P29_LO, PATM_DX, P29_DY),
    model(STEP_T, P30_FIT, P30_UP, P30_LO, P30_DX, P30_DY),
    model(STEP_T, P31_FIT, P31_UP, P31_LO, PATM_DX, P31_DY),
    model(STEP_T, P32_FIT, P32_UP, P32_LO, P32_DX, P32_DY),
    model(FLAT_T, P33_FIT, P33_UP, P33_LO, P33_DX, P33_DY),
    model(STEP_T, P34_FIT, P34_UP, P34_LO, P34_DX, P34_DY),
    model(TAK_T, P35_FIT, P35_UP, P35_LO, PATM_DX, P35_DY),
    model(TAK_T, P36_FIT, P36_UP, P36_LO, PATM_DX, P36_DY),
    model(TAK_T, P37_FIT, P37_UP, P37_LO, PATM_DX, P37_DY),
    model(TAK_T, P38_FIT, P38_UP, P38_LO, P38_DX, P38_DY),
    model(IKK_T, P39_FIT, P39_UP, P39_LO, P39_DX, P39_DY),
    model(IKK_T, P40_FIT, P40_UP, P40_LO, P40_DX, P40_DY),
]

# ============ layout / style ============
W, H = 1227, 1823
COL_LEFT = [70.4, 316.2, 562, 807.8, 1053.6]
ROW_TOP0, ROW_PITCH = 23.7, 225
BOX_W, BOX_H = 168, 159
FONT = "Liberation Sans, Arial, sans-serif"
ORANGE = "#F29B2A"
DOT = "#231815"
BAND_LINE = "#8e8e8e"
BAND_FILL = "#eceeea"
ERRC = "#a4a4a4"
TRAJC = "rgba(105,105,105,0.28)"
AXC = "#5a5a5a"
BG = "#f8fafc"
TXT = "#1e1612"
TICKC = "#3a3a3a"


def fmt(v):
    return f"{v:g}"


fig = go.Figure()
annotations = []
axes = {}
SPL = dict(shape="spline", smoothing=0.5)

for k, p in enumerate(PANELS):
    r, c = divmod(k, 5)
    xa = "x" if k == 0 else f"x{k + 1}"
    ya = "y" if k == 0 else f"y{k + 1}"
    common = dict(xaxis=xa, yaxis=ya, showlegend=False, hoverinfo="skip")

    if "band" in p:
        bx, bu, bl = p["band"]
        fig.add_trace(go.Scatter(x=bx, y=bl, mode="lines",
                                 line=dict(color=BAND_LINE, width=1, **SPL), **common))
        fig.add_trace(go.Scatter(x=bx, y=bu, mode="lines", fill="tonexty", fillcolor=BAND_FILL,
                                 line=dict(color=BAND_LINE, width=1, **SPL), **common))
    if "traj" in p:
        tx, trajs = p["traj"]
        for tr in trajs:
            fig.add_trace(go.Scatter(x=tx, y=tr, mode="lines",
                                     line=dict(color=TRAJC, width=2.5, **SPL), **common))
    if "data" in p:
        dx, dy, de = p["data"]
        fig.add_trace(go.Scatter(
            x=dx, y=dy, mode="lines+markers" if p["dense"] else "markers",
            line=dict(color=DOT, width=3),
            marker=dict(color=DOT, size=5.5),
            error_y=dict(type="data", array=de, color=ERRC, thickness=1.8, width=7),
            **common))
    fx, fy = p["fit"]
    fig.add_trace(go.Scatter(x=fx, y=fy, mode="lines",
                             line=dict(color=ORANGE, width=4, **SPL), **common))
    if "dots" in p:
        ddx, ddy = p["dots"]
        fig.add_trace(go.Scatter(x=ddx, y=ddy, mode="markers",
                                 marker=dict(color=DOT, size=5.5), **common))

    left = COL_LEFT[c]
    top = ROW_TOP0 + ROW_PITCH * r
    axstyle = dict(showgrid=False, zeroline=False, showline=True, linecolor=AXC, linewidth=1,
                   mirror="allticks", ticks="inside", ticklen=4, tickwidth=1, tickcolor=AXC,
                   tickfont=dict(family=FONT, size=23, color=TICKC), tickmode="array",
                   fixedrange=True)
    xname = "xaxis" if k == 0 else f"xaxis{k + 1}"
    yname = "yaxis" if k == 0 else f"yaxis{k + 1}"
    axes[xname] = dict(domain=[left / W, (left + BOX_W) / W], anchor=ya,
                       range=X_RANGES[k], tickvals=X_TICKS[k],
                       ticktext=[fmt(v) for v in X_TICKS[k]], ticklabelstandoff=5, **axstyle)
    axes[yname] = dict(domain=[1 - (top + BOX_H) / H, 1 - top / H], anchor=xa,
                       range=Y_RANGES[k], tickvals=Y_TICKS[k],
                       ticktext=[fmt(v) for v in Y_TICKS[k]], ticklabelstandoff=8, **axstyle)

    title_gap = 6 if r == 0 else 1
    annotations.append(dict(text=TITLES[k], xref="paper", yref="paper",
                            x=(left + BOX_W / 2) / W, y=1 - (top - title_gap) / H,
                            xanchor="center", yanchor="bottom", showarrow=False,
                            font=dict(family=FONT, size=22, color=TXT)))
    if LABELS[k] == "sig":
        annotations.append(dict(text="sig", xref="paper", yref="paper",
                                x=(left + BOX_W - 8) / W, y=1 - (top + 5) / H,
                                xanchor="right", yanchor="top", showarrow=False,
                                font=dict(family=FONT, size=25, color=TXT)))
    else:
        annotations.append(dict(text=LABELS[k], xref="paper", yref="paper",
                                x=(left + BOX_W - 4) / W, y=1 - (top + BOX_H - 5) / H,
                                xanchor="right", yanchor="bottom", showarrow=False,
                                font=dict(family=FONT, size=25, color=TXT)))

annotations.append(dict(text="level [a.u.]", xref="paper", yref="paper",
                        x=20 / W, y=1 - 1004 / H, textangle=-90,
                        xanchor="center", yanchor="middle", showarrow=False,
                        font=dict(family=FONT, size=22, color=TXT)))
annotations.append(dict(text="time [min]", xref="paper", yref="paper",
                        x=634 / W, y=1 - 1812 / H,
                        xanchor="center", yanchor="middle", showarrow=False,
                        font=dict(family=FONT, size=22, color=TXT)))

fig.update_layout(width=W, height=H, margin=dict(l=0, r=0, t=0, b=0),
                  paper_bgcolor=BG, plot_bgcolor=BG, annotations=annotations,
                  font=dict(family=FONT), **axes)
fig.write_html("out.html")
